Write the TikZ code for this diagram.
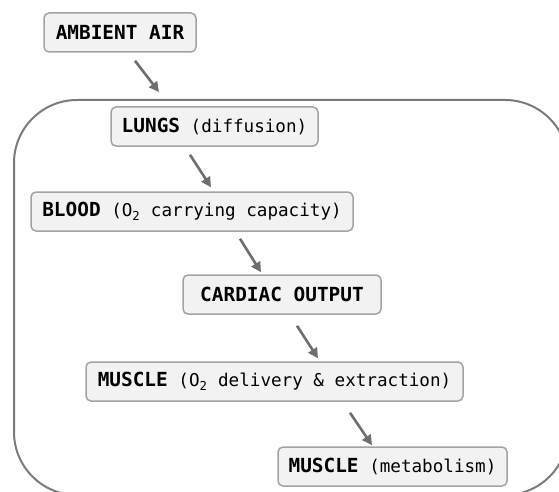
\documentclass[tikz,border=0pt]{standalone}
\usepackage{fontspec}
\usetikzlibrary{arrows.meta}
\newfontfamily\monoB{DejaVu Sans Mono Bold}
\newfontfamily\monoR{DejaVu Sans Mono}
\newcommand{\bt}[1]{{\fontsize{19.4pt}{22pt}\monoB #1}}
\newcommand{\rt}[1]{{\fontsize{17.6pt}{22pt}\monoR #1}}
\definecolor{boxfill}{HTML}{F2F2F2}
\definecolor{boxline}{HTML}{A3A3A3}
\definecolor{outerline}{HTML}{7A7A7A}
\definecolor{arrcol}{HTML}{6E6E6E}
\tikzset{
  stage/.style={draw=boxline, line width=1.5pt, fill=boxfill, rounded corners=5pt,
    minimum height=39pt, inner sep=0pt, text=black, anchor=center},
  body/.style={draw=outerline, line width=2pt, rounded corners=63pt, inner sep=0pt,
    minimum width=554pt, minimum height=395pt},
  arr/.style={draw=arrcol, line width=2.6pt, -{Triangle[length=10pt,width=10pt]}}
}
\begin{document}
\begin{tikzpicture}[x=1pt,y=-1pt]
\useasboundingbox (0,0) rectangle (559,492);
\clip (0,0) rectangle (559,492);
\node[body] (body) at (291,297.5) {};
\node[stage, minimum width=152pt] (air) at (120,32.5) {\bt{AMBIENT AIR}};
\node[stage, minimum width=207pt] (lungs) at (214.5,126.5) {\bt{LUNGS}\rt{\ (diffusion)}};
\node[stage, minimum width=322pt] (blood) at (192,211.5) {\bt{BLOOD}\rt{\ (O\textsubscript{2} carrying capacity)}};
\node[stage, minimum width=198pt] (cardiac) at (282,294.5) {\bt{CARDIAC OUTPUT}};
\node[stage, minimum width=377pt] (muscle) at (274.5,381.5) {\bt{MUSCLE}\rt{\ (O\textsubscript{2} delivery \& extraction)}};
\node[stage, minimum width=229pt] (metab) at (392.5,466.5) {\bt{MUSCLE}\rt{\ (metabolism)}};
\draw[arr] ([shift={(15,8)}]air.south) -- ([shift={(-132,-7)}]body.north);
\draw[arr] ([shift={(-24.5,8)}]lungs.south) -- ([shift={(19,-4)}]blood.north);
\draw[arr] ([shift={(48,7)}]blood.south) -- ([shift={(-21,-2)}]cardiac.north);
\draw[arr] ([shift={(15,11)}]cardiac.south) -- ([shift={(43.5,-3)}]muscle.north);
\draw[arr] ([shift={(75.5,11)}]muscle.south) -- ([shift={(-20.5,-1)}]metab.north);
\end{tikzpicture}
\end{document}
